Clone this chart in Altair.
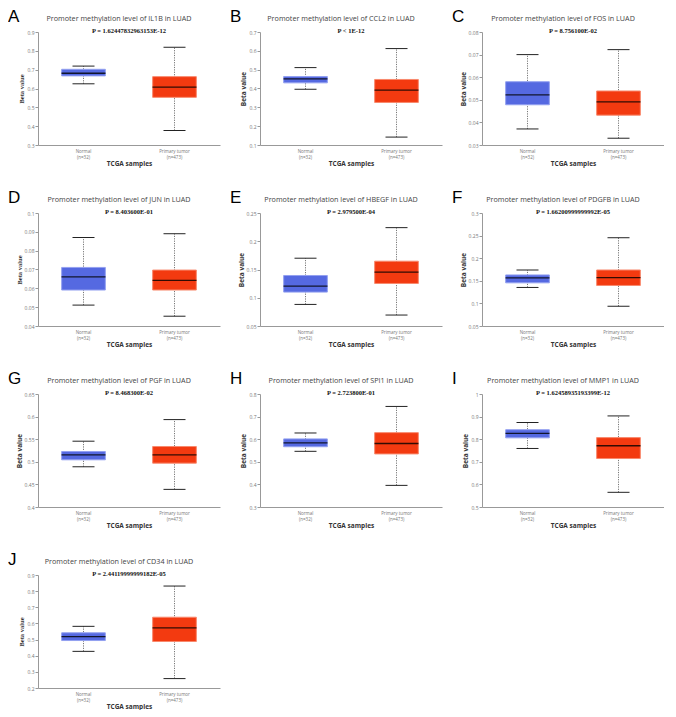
import altair as alt
import pandas as pd

# ---------------- data ----------------
letters = ["A", "B", "C", "D", "E", "F", "G", "H", "I", "J"]
genes = ["IL1B", "CCL2", "FOS", "JUN", "HBEGF", "PDGFB", "PGF", "SPI1", "MMP1", "CD34"]
p_values = [
    "P = 1.62447832963153E-12",
    "P < 1E-12",
    "P = 8.756100E-02",
    "P = 8.403600E-01",
    "P = 2.979500E-04",
    "P = 1.66200999999992E-05",
    "P = 8.468300E-02",
    "P = 2.723800E-01",
    "P = 1.62458935193399E-12",
    "P = 2.44119999999182E-05",
]

groups = ["Normal", "Primary tumor"]
group_n = ["(n=32)", "(n=473)"]

normal_min = [0.625, 0.396, 0.0371, 0.0511, 0.0882, 0.1353, 0.489, 0.5464, 0.759, 0.427]
normal_q1 = [0.667, 0.430, 0.0478, 0.0591, 0.110, 0.1455, 0.5044, 0.5667, 0.806, 0.494]
normal_med = [0.681, 0.451, 0.0522, 0.0661, 0.1206, 0.1564, 0.5154, 0.584, 0.826, 0.518]
normal_q3 = [0.702, 0.4635, 0.058, 0.0711, 0.1394, 0.163, 0.5228, 0.6014, 0.842, 0.542]
normal_max = [0.719, 0.511, 0.070, 0.087, 0.170, 0.1739, 0.5456, 0.6275, 0.874, 0.582]

tumor_min = [0.377, 0.142, 0.033, 0.0452, 0.0694, 0.0937, 0.439, 0.3957, 0.565, 0.2583]
tumor_q1 = [0.553, 0.326, 0.0432, 0.0591, 0.1253, 0.1397, 0.497, 0.5348, 0.7145, 0.488]
tumor_med = [0.607, 0.391, 0.0491, 0.0642, 0.1453, 0.1571, 0.5154, 0.581, 0.771, 0.572]
tumor_q3 = [0.663, 0.448, 0.0539, 0.0697, 0.1647, 0.1739, 0.5338, 0.629, 0.807, 0.6385]
tumor_max = [0.819, 0.612, 0.0722, 0.089, 0.2241, 0.2453, 0.5934, 0.745, 0.903, 0.8316]

y_min = [0.3, 0.1, 0.03, 0.04, 0.05, 0.05, 0.4, 0.3, 0.5, 0.2]
y_max = [0.9, 0.7, 0.08, 0.1, 0.25, 0.3, 0.65, 0.8, 1.0, 0.9]
y_step = [0.1, 0.1, 0.01, 0.01, 0.05, 0.05, 0.05, 0.1, 0.1, 0.1]
y_title_font = ["Liberation Serif", "Open Sans", "Open Sans", "Liberation Serif", "Open Sans",
                "Open Sans", "Open Sans", "Open Sans", "Open Sans", "Liberation Serif"]

fill_colors = ["#5569e1", "#f33a10"]
stroke_colors = ["#93a0f0", "#f8896d"]

W, H = 182, 113


def make_panel(i):
    df = pd.DataFrame({
        "group": groups,
        "lo": [normal_min[i], tumor_min[i]],
        "q1": [normal_q1[i], tumor_q1[i]],
        "med": [normal_med[i], tumor_med[i]],
        "q3": [normal_q3[i], tumor_q3[i]],
        "hi": [normal_max[i], tumor_max[i]],
    })
    n_ticks = int(round((y_max[i] - y_min[i]) / y_step[i]))
    ticks = [round(y_min[i] + k * y_step[i], 4) for k in range(n_ticks + 1)]

    label_expr = (
        f"datum.value == '{groups[0]}' ? ['{groups[0]}', '{group_n[0]}'] : "
        f"['{groups[1]}', '{group_n[1]}']"
    )
    xenc = alt.X(
        "group:N",
        sort=groups,
        scale=alt.Scale(domain=groups, paddingInner=0.52, paddingOuter=0.26),
        axis=alt.Axis(
            title="TCGA samples",
            labelExpr=label_expr,
            labelAngle=0,
            ticks=False,
            labelFont="Open Sans",
            labelFontSize=4.5,
            labelLineHeight=6,
            labelColor="#777777",
            labelPadding=3,
            domainColor="#999999",
            titleFont="Open Sans",
            titleFontSize=6.5,
            titleFontWeight="bold",
            titleColor="#333333",
            titlePadding=2,
        ),
    )
    yscale = alt.Scale(domain=[y_min[i], y_max[i]], nice=False, zero=False)
    yaxis = alt.Axis(
        values=ticks,
        format="~g",
        title="Beta value",
        grid=False,
        tickSize=3,
        tickColor="#999999",
        domainColor="#999999",
        labelFont="Open Sans",
        labelFontSize=5,
        labelColor="#777777",
        labelPadding=1,
        titleFont=y_title_font[i],
        titleFontSize=6.5,
        titleFontWeight="bold",
        titleColor="#333333",
        titlePadding=2,
    )

    base = alt.Chart(df)
    whisk = base.mark_rule(color="#555555", strokeWidth=0.8, strokeDash=[1.2, 1.2]).encode(
        x=xenc, y=alt.Y("lo:Q", scale=yscale, axis=yaxis), y2=alt.Y2("hi:Q")
    )
    box = base.mark_bar(strokeWidth=1).encode(
        x=xenc,
        y=alt.Y("q1:Q", scale=yscale, axis=yaxis),
        y2=alt.Y2("q3:Q"),
        fill=alt.Fill("group:N", scale=alt.Scale(domain=groups, range=fill_colors), legend=None),
        stroke=alt.Stroke("group:N", scale=alt.Scale(domain=groups, range=stroke_colors), legend=None),
    )
    cap_lo = base.mark_tick(size=22, thickness=1, color="#222222", opacity=1).encode(
        x=xenc, y=alt.Y("lo:Q", scale=yscale, axis=yaxis)
    )
    cap_hi = base.mark_tick(size=22, thickness=1, color="#222222", opacity=1).encode(
        x=xenc, y=alt.Y("hi:Q", scale=yscale, axis=yaxis)
    )
    med = base.mark_tick(size=44, thickness=1.3, color="#000000", opacity=0.8).encode(
        x=xenc, y=alt.Y("med:Q", scale=yscale, axis=yaxis)
    )

    txt = pd.DataFrame({"letter": [letters[i]],
                        "title": [f"Promoter methylation level of {genes[i]} in LUAD"],
                        "p": [p_values[i]]})
    tbase = alt.Chart(txt)
    letter = tbase.mark_text(align="left", baseline="middle", font="Liberation Sans",
                             fontSize=17, color="#000000").encode(
        text="letter:N", x=alt.value(-30), y=alt.value(-15))
    title = tbase.mark_text(align="center", baseline="middle", font="Open Sans",
                            fontSize=7.2, color="#444444").encode(
        text="title:N", x=alt.value(W / 2 - 10), y=alt.value(-13))
    ptxt = tbase.mark_text(align="center", baseline="middle", font="Liberation Serif",
                           fontSize=6.5, fontWeight="bold", color="#111111").encode(
        text="p:N", x=alt.value(W / 2), y=alt.value(-1))

    return alt.layer(whisk, box, cap_lo, cap_hi, med, letter, title, ptxt).properties(
        width=W, height=H
    )


panels = [make_panel(i) for i in range(len(genes))]

chart = (
    alt.concat(*panels, columns=3, spacing={"row": 22, "column": 10})
    .properties(padding=0, background="white")
    .configure_view(strokeWidth=0)
)

chart.save("out.html", embed_options={"renderer": "svg", "actions": False})
